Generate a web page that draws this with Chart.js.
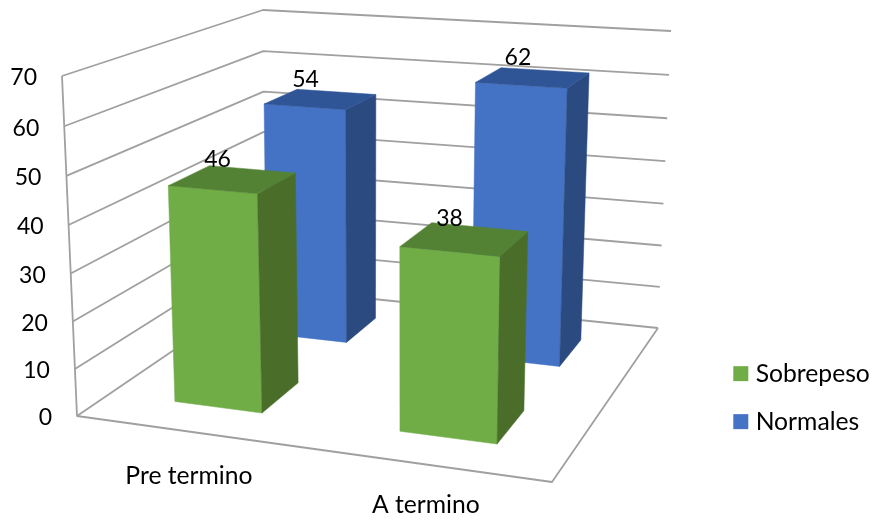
<!DOCTYPE html>
<html>
<head>
<meta charset="utf-8">
<title>Sobrepeso y normales</title>
<script src="https://cdn.jsdelivr.net/npm/chart.js@4/dist/chart.umd.min.js"></script>
<style>
    html, body { margin: 0; padding: 0; background: #fff; }
    canvas { display: block; }
</style>
</head>
<body>
<canvas id="myChart" width="875" height="520"></canvas>
<script>
const categories = ['Pre termino', 'A termino'];
const sobrepeso = [46, 38];
const normales = [54, 62];
const tickLabels = [0, 10, 20, 30, 40, 50, 60, 70];

const TEXT_FONT = '24.7px Lato';
const NUMBER_FONT = '23px Lato';
const GRID_COLOR = '#a0a0a0';

// Shades of each series: front, top and side faces
const greenFaces = ['#70ad47', '#548235', '#4a6e2a'];
const blueFaces = ['#4472c4', '#2f5597', '#2a4a80'];

// The box the chart sits in: corners go front-left, front-right, back-right, back-left
const floorCorners = [[77, 416], [552, 482], [658, 328], [265, 288]];
const roofCorners = [[62, 76], [562, 113], [671, 31], [263, 10]];

// Foreshortening of the vertical axis, 1 would be no perspective
const HEIGHT_BOW = 1.04;
// Small sideways offset of the boxes on the floor
const BAR_SHIFT = 0.003;

// Perspective map from the unit square onto a four sided shape
function squareToQuad(q) {
    const [x0, y0] = q[0], [x1, y1] = q[1], [x2, y2] = q[2], [x3, y3] = q[3];
    const dx1 = x1 - x2, dy1 = y1 - y2;
    const dx2 = x3 - x2, dy2 = y3 - y2;
    const sx = x0 - x1 + x2 - x3, sy = y0 - y1 + y2 - y3;
    const det = dx1 * dy2 - dy1 * dx2;
    const g = (sx * dy2 - sy * dx2) / det;
    const h = (dx1 * sy - dy1 * sx) / det;
    const a = x1 - x0 + g * x1, b = x3 - x0 + h * x3;
    const d = y1 - y0 + g * y1, e = y3 - y0 + h * y3;
    return (u, v) => {
        const w = g * u + h * v + 1;
        return [(a * u + b * v + x0) / w, (d * u + e * v + y0) / w];
    };
}

const floorMap = squareToQuad(floorCorners);
const roofMap = squareToQuad(roofCorners);

// u runs along the categories, v goes back in depth, t is the share of the height
function project(u, v, t) {
    const low = floorMap(u, v);
    const high = roofMap(u, v);
    const f = t / (t + HEIGHT_BOW * (1 - t));
    return [low[0] + (high[0] - low[0]) * f, low[1] + (high[1] - low[1]) * f];
}

function fillFace(ctx, points, color) {
    ctx.beginPath();
    points.forEach((p, i) => i ? ctx.lineTo(p[0], p[1]) : ctx.moveTo(p[0], p[1]));
    ctx.closePath();
    ctx.fillStyle = color;
    ctx.fill();
    // same colour stroke closes the hairline between faces
    ctx.strokeStyle = color;
    ctx.lineWidth = 0.5;
    ctx.stroke();
}

function strokePath(ctx, points) {
    ctx.beginPath();
    points.forEach((p, i) => i ? ctx.lineTo(p[0], p[1]) : ctx.moveTo(p[0], p[1]));
    ctx.stroke();
}

const box3d = {
    id: 'box3d',
    beforeDraw(chart) {
        // legend goes lower right, next to the floor
        chart.legend.left = 715;
        chart.legend.top = 338;
    },
    // returns false so the flat bars are replaced by the boxes
    beforeDatasetsDraw(chart) {
        const ctx = chart.ctx;
        const area = chart.chartArea;
        const yScale = chart.scales.y;
        const share = value => (yScale.bottom - yScale.getPixelForValue(value)) / (yScale.bottom - yScale.top);

        ctx.save();
        ctx.lineJoin = 'round';

        // walls and floor
        ctx.strokeStyle = GRID_COLOR;
        ctx.lineWidth = 1.8;
        tickLabels.forEach(tick => {
            const t = share(tick);
            strokePath(ctx, [project(0, 0, t), project(0, 1, t), project(1, 1, t)]);
        });
        strokePath(ctx, [project(0, 0, 1), project(0, 0, 0), project(1, 0, 0), project(1, 1, 0)]);

        // y axis labels follow the slanted front edge
        ctx.fillStyle = '#000';
        ctx.font = NUMBER_FONT;
        ctx.textAlign = 'right';
        ctx.textBaseline = 'middle';
        tickLabels.forEach(tick => {
            const p = project(0, 0, share(tick));
            ctx.fillText(String(tick), p[0] - 25, p[1] + 2);
        });

        // category labels under the front edge, the gap closes a little to the right
        ctx.font = TEXT_FONT;
        ctx.textAlign = 'center';
        chart.scales.x.ticks.forEach((tick, i) => {
            const u = (chart.scales.x.getPixelForTick(i) - area.left) / area.width;
            const p = project(u, 0, 0);
            ctx.fillText(categories[tick.value], p[0] + 3, p[1] + 47 - 8 * u);
        });

        // boxes, back row first so the front row covers it
        const rows = chart.data.datasets.length;
        const labels = [];
        for (let d = rows - 1; d >= 0; d--) {
            const faces = d === 0 ? greenFaces : blueFaces;
            const dataset = chart.data.datasets[d];
            chart.getDatasetMeta(d).data.forEach((bar, i) => {
                const u0 = (bar.x - bar.width / 2 - area.left) / area.width + BAR_SHIFT;
                const u1 = (bar.x + bar.width / 2 - area.left) / area.width + BAR_SHIFT;
                const v0 = (d + 0.5 - dataset.barPercentage / 2) / rows;
                const v1 = (d + 0.5 + dataset.barPercentage / 2) / rows;
                const t = share(dataset.data[i]);

                fillFace(ctx, [project(u0, v0, 0), project(u1, v0, 0), project(u1, v0, t), project(u0, v0, t)], faces[0]);
                fillFace(ctx, [project(u1, v0, 0), project(u1, v1, 0), project(u1, v1, t), project(u1, v0, t)], faces[2]);
                fillFace(ctx, [project(u0, v0, t), project(u1, v0, t), project(u1, v1, t), project(u0, v1, t)], faces[1]);

                const mid = project((u0 + u1) / 2, (v0 + v1) / 2, t);
                labels.push({ text: String(dataset.data[i]), x: mid[0] - 15, y: mid[1] - 20 });
            });
        }

        // value labels go on last, they sit above every box
        ctx.font = NUMBER_FONT;
        ctx.fillStyle = '#000';
        labels.forEach(l => ctx.fillText(l.text, l.x, l.y));

        ctx.restore();
        return false;
    }
};

const chartInstance = new Chart(document.getElementById('myChart').getContext('2d'), {
    type: 'bar',
    data: {
        labels: categories,
        datasets: [{
            label: 'Sobrepeso',
            data: sobrepeso,
            backgroundColor: greenFaces[0],
            borderColor: greenFaces[0],
            borderWidth: 10,
            grouped: false,
            barPercentage: 0.4,
            categoryPercentage: 1
        }, {
            label: 'Normales',
            data: normales,
            backgroundColor: blueFaces[0],
            borderColor: blueFaces[0],
            borderWidth: 10,
            grouped: false,
            barPercentage: 0.4,
            categoryPercentage: 1
        }]
    },
    options: {
        responsive: false,
        animation: false,
        scales: {
            x: { display: false },
            y: {
                display: false,
                min: tickLabels[0],
                max: tickLabels[tickLabels.length - 1],
                ticks: { stepSize: tickLabels[1] - tickLabels[0] }
            }
        },
        plugins: {
            tooltip: { enabled: false },
            legend: {
                position: 'right',
                align: 'start',
                labels: {
                    color: '#000',
                    font: { family: 'Lato', size: 24.7 },
                    boxWidth: 5,
                    boxHeight: 5,
                    padding: 23.3
                }
            }
        }
    },
    plugins: [box3d]
});
</script>
</body>
</html>
